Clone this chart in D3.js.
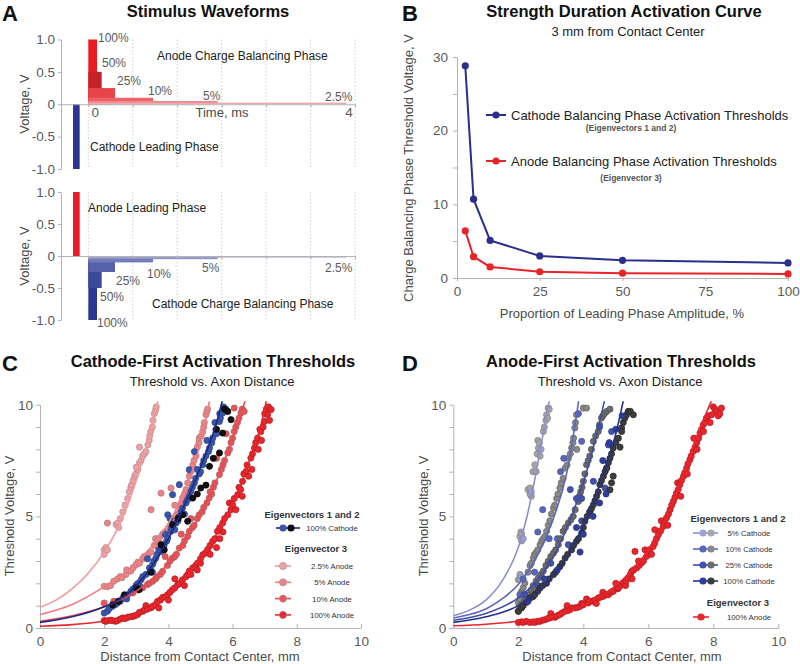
<!DOCTYPE html>
<html><head><meta charset="utf-8">
<script src="https://cdn.jsdelivr.net/npm/d3@7"></script>
<style>body{margin:0;background:#fff} svg{display:block;font-family:"Liberation Sans",Arial,Helvetica,sans-serif}</style>
</head><body><svg id="chart" width="800" height="664"></svg>
<script>
// ---------------- DATA ----------------
// Panel A: stimulus waveforms
const waveLevels = ["100%", "50%", "25%", "10%", "5%", "2.5%"];
const waveAmps = [1, 0.5, 0.25, 0.1, 0.05, 0.025];
const waveDur = [0.13, 0.2, 0.4, 0.97, 1.94, 3.87];       // ms, balancing phase durations
const leadPulse = [-0.23, -0.13];                          // ms, leading phase start/end
const waveTicksY = [1, 0.5, 0, -0.5, -1];
const waveGridT = [0, 0.667, 1.333, 2, 2.667, 3.333, 4];
const waveTickLabels = ["0", "4"];

// Panel B: strength–duration
const sdPct = [2.5, 5, 10, 25, 50, 100];
const sdCathode = [28.8, 10.7, 5.1, 3.0, 2.4, 2.05];
const sdAnode = [6.4, 2.9, 1.5, 0.85, 0.65, 0.55];
const sdTicksX = [0, 25, 50, 75, 100];
const sdTicksY = [0, 5, 10, 15, 20, 25, 30];

// Panel C: cathode-first thresholds (fitted curves + simulated axons)
const cFitA25 = [[0,0.93],[0.5,1.25],[1,1.75],[1.5,2.45],[2,3.4],[2.5,4.7],[3,6.6],[3.5,9.2],[3.7,10.3]];
const cFitA5 = [[0,0.6],[1,1.05],[2,1.85],[3,2.9],[3.5,3.7],[4,4.7],[4.5,6.1],[5,8.3],[5.3,10.3]];
const cFitA10 = [[0,0.3],[1,0.55],[2,0.95],[3,1.65],[4,2.9],[4.5,3.9],[5,5.1],[5.5,6.6],[6,8.5],[6.42,10.3]];
const cFitA100 = [[0,0.08],[1,0.15],[2,0.3],[3,0.6],[4,1.5],[4.5,2.2],[5,3.1],[5.5,4.2],[6,5.5],[6.5,7.4],[7,9.8],[7.07,10.3]];
const cFitC100 = [[0,0.25],[1,0.5],[2,0.95],[2.5,1.3],[3,1.9],[3.5,2.8],[4,4.0],[4.5,5.5],[5,7.2],[5.5,9.2],[5.7,10.3]];

const cPtsA25 = [[2.0,3.5],[2.05,3.6],[2.0,3.3],[2.1,3.5],[2.37,4.63],[2.42,4.7],[2.45,4.5],[2.5,4.9],[2.58,5.2],[2.65,5.5],[2.73,5.8],[2.78,6.1],[2.83,6.3],[2.85,6.4],[2.9,6.6],[2.95,6.8],[2.99,6.9],[3.05,7.1],[3.1,7.4],[3.0,7.2],[3.15,7.5],[3.2,7.7],[3.25,7.8],[3.3,7.9],[3.36,8.2],[3.1,8.1],[3.4,8.4],[3.42,8.6],[3.45,8.8],[3.5,9.0],[3.52,9.3],[3.56,9.6],[3.6,9.75],[3.62,9.9]];
const cPtsA5 = [[2.0,1.87],[2.1,1.85],[2.2,1.9],[2.3,2.1],[2.42,2.2],[2.5,2.3],[2.55,2.25],[2.68,2.4],[2.7,2.6],[2.83,2.55],[2.9,2.7],[2.99,2.84],[3.05,2.95],[3.1,2.9],[3.2,3.1],[3.25,3.2],[3.35,3.28],[3.4,3.35],[3.46,3.4],[3.56,3.7],[3.6,4.0],[3.65,3.9],[3.72,4.03],[3.82,4.2],[3.9,4.3],[3.98,4.33],[4.05,4.5],[4.13,4.63],[4.24,4.93],[4.3,5.1],[4.34,5.37],[4.2,5.5],[4.4,5.6],[4.44,5.82],[4.5,6.0],[4.55,6.2],[4.6,6.5],[4.65,6.8],[4.7,7.0],[4.76,7.3],[4.8,7.5],[4.86,7.7],[4.9,8.1],[4.95,8.3],[4.96,8.5],[5.02,8.6],[5.07,8.8],[5.1,9.0],[5.12,9.2],[5.17,9.55],[5.2,9.7],[5.22,9.8],[4.08,6.27],[3.77,6.04],[3.46,5.3],[2.1,4.7]];
const cPtsA10 = [[2.0,1.12],[2.3,1.2],[2.6,1.35],[2.7,1.45],[2.89,1.57],[3.05,1.7],[3.1,1.75],[3.2,1.8],[3.35,1.95],[3.4,2.0],[3.51,2.09],[3.6,2.2],[3.65,2.3],[3.75,2.4],[3.82,2.54],[3.9,3.2],[3.97,2.8],[4.05,3.0],[4.13,3.13],[4.2,3.2],[4.25,3.3],[4.34,3.58],[4.4,4.2],[4.45,3.7],[4.5,3.9],[4.6,4.1],[4.65,4.33],[4.75,4.5],[4.8,4.6],[4.9,4.9],[4.96,5.07],[5.05,5.2],[5.1,5.4],[5.2,5.6],[5.27,5.82],[5.35,6.0],[5.4,6.3],[5.45,6.5],[5.5,7.6],[5.59,6.87],[5.65,7.1],[5.7,7.3],[5.75,7.5],[5.85,7.84],[5.9,8.0],[5.95,8.3],[6.0,8.5],[6.05,8.8],[6.1,9.0],[6.15,9.2],[6.2,9.4],[6.26,9.63],[6.3,9.8],[6.36,9.7],[6.05,9.85],[5.8,8.7],[5.3,6.1],[4.7,4.9]];
const cPtsA100 = [[2.0,0.33],[2.05,0.3],[2.1,0.33],[2.2,0.35],[2.26,0.33],[2.35,0.3],[2.41,0.33],[2.5,0.4],[2.58,0.45],[2.65,0.42],[2.73,0.48],[2.8,0.5],[2.89,0.52],[2.95,0.55],[3.04,0.6],[3.1,0.7],[3.2,0.75],[3.25,0.8],[3.3,1.0],[3.35,0.85],[3.45,0.9],[3.51,0.97],[3.6,1.05],[3.66,1.19],[3.7,0.9],[3.75,1.25],[3.82,1.37],[3.9,1.4],[3.97,1.49],[4.0,1.25],[4.05,1.6],[4.13,1.72],[4.2,1.8],[4.2,2.2],[4.29,1.94],[4.35,2.0],[4.44,2.16],[4.5,1.9],[4.55,2.3],[4.6,2.39],[4.65,2.55],[4.7,2.4],[4.76,2.69],[4.85,2.8],[4.9,2.6],[4.91,2.91],[5.0,2.9],[5.0,3.1],[5.07,3.28],[5.15,3.35],[5.22,3.51],[5.3,3.3],[5.3,3.7],[5.38,3.88],[5.45,4.0],[5.5,3.6],[5.53,4.33],[5.6,4.0],[5.6,4.5],[5.69,4.7],[5.7,4.3],[5.75,4.9],[5.85,5.07],[5.9,5.6],[5.95,5.3],[6.0,5.52],[6.05,5.8],[6.1,5.3],[6.16,5.97],[6.2,6.3],[6.25,6.2],[6.3,5.9],[6.31,6.57],[6.35,6.9],[6.42,7.01],[6.45,7.3],[6.5,6.8],[6.57,7.61],[6.6,7.1],[6.62,7.8],[6.68,8.06],[6.72,8.3],[6.78,8.5],[6.8,8.0],[6.85,8.9],[6.88,8.8],[6.9,8.4],[6.95,9.0],[6.99,9.25],[7.0,9.6],[7.05,9.8],[7.09,9.55],[7.12,9.9],[7.15,9.3],[7.2,9.78]];
const cPtsC100Blue = [[2.0,0.67],[2.1,0.75],[2.15,0.85],[2.26,0.97],[2.35,1.05],[2.41,1.12],[2.5,1.2],[2.58,1.34],[2.65,1.4],[2.7,1.3],[2.73,1.49],[2.83,1.64],[2.9,1.75],[2.99,1.9],[3.05,2.0],[3.1,1.9],[3.15,2.16],[3.2,2.3],[3.3,2.4],[3.35,3.1],[3.41,2.69],[3.45,2.6],[3.5,2.5],[3.51,2.85],[3.55,3.0],[3.61,3.13],[3.65,3.3],[3.7,3.5],[3.77,3.43],[3.8,3.6],[3.87,3.73],[3.9,4.2],[3.95,3.9],[3.98,4.03],[3.98,5.07],[4.05,4.9],[4.08,4.33],[4.1,4.5],[4.13,5.97],[4.2,4.4],[4.24,4.7],[4.3,4.8],[4.34,5.0],[4.34,6.42],[4.4,5.2],[4.44,5.37],[4.5,5.1],[4.55,5.6],[4.6,5.75],[4.65,5.9],[4.65,7.09],[4.7,6.12],[4.75,6.3],[4.81,6.49],[4.81,7.9],[4.85,6.7],[4.9,7.1],[4.96,6.9],[5.0,7.0],[5.07,7.31],[5.1,7.5],[5.17,7.7],[5.2,8.4],[5.25,7.9],[5.28,8.06],[5.35,8.3],[5.38,8.5],[5.45,9.2],[5.48,8.88],[5.5,8.7],[5.59,9.25],[5.6,9.6],[5.62,9.4],[5.69,9.63],[5.72,9.9],[5.79,9.8]];
const cPtsC100Black = [[2.26,1.04],[2.45,1.2],[2.63,1.49],[3.0,1.8],[3.09,1.72],[3.45,2.5],[3.77,3.73],[3.87,3.5],[4.13,4.63],[4.3,4.9],[4.44,5.07],[4.6,4.78],[4.76,5.82],[4.9,6.0],[5.01,6.27],[5.17,6.4],[5.28,7.24],[5.4,7.6],[5.5,8.9],[5.59,7.84],[5.69,8.73],[5.75,9.8],[5.85,9.7],[5.95,9.33]];

// Panel D: anode-first thresholds
const dFitC5 = [[0,0.55],[0.5,0.8],[1,1.25],[1.5,2.1],[2,3.6],[2.3,5.2],[2.5,6.6],[2.7,8.2],[2.97,10.3]];
const dFitC10 = [[0,0.45],[0.5,0.6],[1,0.85],[1.5,1.3],[2,1.95],[2.5,3.0],[3,4.6],[3.5,7.0],[3.87,10.3]];
const dFitC25 = [[0,0.35],[1,0.65],[2,1.35],[2.5,2.0],[3,3.0],[3.5,4.5],[4,6.5],[4.4,8.6],[4.67,10.3]];
const dFitC100 = [[0,0.25],[1,0.5],[2,1.0],[2.5,1.5],[3,2.2],[3.5,3.2],[4,4.6],[4.5,6.4],[5,8.7],[5.25,10.3]];
const dFitA100 = [[0,0.1],[1,0.17],[2,0.3],[3,0.5],[4,1.0],[4.5,1.4],[5,1.9],[5.5,2.6],[6,3.5],[6.5,4.8],[7,6.5],[7.5,8.6],[7.98,10.3]];

const dPtsC5Gray = [[2.0,2.16],[2.05,2.4],[2.05,2.2],[2.05,4.1],[2.08,4.3],[2.1,4.2],[2.1,3.9],[2.3,6.2],[2.36,6.27],[2.4,5.9],[2.36,6.0],[2.45,7.0],[2.51,7.31],[2.55,7.0],[2.58,7.8],[2.62,8.06],[2.6,8.4],[2.65,8.3],[2.67,7.7],[2.77,8.8],[2.8,9.0],[2.85,9.3],[2.87,9.55],[2.92,9.85],[2.9,9.4],[2.95,9.8]];
const dPtsC5Blue = [[2.1,2.3],[2.15,4.0],[2.4,6.1],[2.7,8.0]];
const dPtsC10Gray = [[2.0,1.12],[2.05,1.3],[2.1,1.64],[2.15,1.8],[2.2,2.0],[2.3,2.5],[2.36,2.8],[2.4,2.9],[2.46,3.13],[2.5,3.3],[2.56,3.4],[2.6,3.5],[2.67,3.73],[2.72,3.9],[2.77,4.0],[2.82,4.1],[2.87,4.33],[2.92,4.6],[2.97,4.8],[3.02,5.1],[3.08,5.37],[3.12,5.5],[3.18,5.8],[3.22,6.0],[3.28,6.27],[3.32,6.5],[3.38,6.7],[3.44,7.16],[3.5,7.3],[3.54,7.6],[3.6,7.8],[3.64,8.06],[3.68,8.3],[3.7,8.5],[3.74,8.96],[3.76,9.2],[3.79,9.55],[3.8,8.0],[4.0,9.85],[4.1,9.85]];
const dPtsC10Blue = [[2.05,1.5],[2.15,2.2],[2.5,2.5],[2.6,4.3],[2.75,5.3],[2.95,4.0],[3.2,4.0],[3.3,7.0],[3.4,7.6],[3.85,9.6],[3.95,8.36]];
const dPtsC25Gray = [[2.0,0.75],[2.05,0.9],[2.1,1.05],[2.2,1.25],[2.31,1.49],[2.4,1.7],[2.46,1.9],[2.55,2.1],[2.62,2.24],[2.7,2.4],[2.77,2.55],[2.85,2.8],[2.92,2.99],[3.0,3.2],[3.08,3.35],[3.15,3.5],[3.23,3.73],[3.3,4.0],[3.38,4.33],[3.45,4.5],[3.54,4.7],[3.62,4.85],[3.69,5.0],[3.75,5.3],[3.85,5.67],[3.88,5.9],[3.92,6.1],[3.96,6.3],[4.0,6.57],[4.05,6.9],[4.1,7.31],[4.15,7.5],[4.2,7.7],[4.25,8.0],[4.31,8.36],[4.38,8.6],[4.46,8.8],[4.5,9.1],[4.56,9.4],[4.6,9.5],[4.65,9.6],[4.72,9.7],[4.82,9.8]];
const dPtsC25Blue = [[2.2,1.5],[2.6,1.9],[3.0,2.9],[3.54,3.73],[3.6,6.2],[3.79,5.8],[3.95,4.8],[3.95,5.8],[4.2,5.2],[4.31,6.57],[4.5,9.0],[4.67,6.27],[4.72,7.16],[4.77,8.2],[4.87,8.8]];
const dPtsC100Gray = [[2.0,0.75],[2.1,0.9],[2.15,1.0],[2.25,1.15],[2.36,1.34],[2.45,1.4],[2.51,1.5],[2.6,1.65],[2.67,1.79],[2.75,1.9],[2.87,2.0],[2.95,2.2],[3.08,2.39],[3.15,2.5],[3.28,2.75],[3.35,2.9],[3.44,3.13],[3.52,3.3],[3.64,3.5],[3.7,3.7],[3.79,3.88],[3.85,4.0],[3.95,4.25],[4.0,4.5],[4.05,4.78],[4.12,5.0],[4.2,5.2],[4.25,5.35],[4.31,5.52],[4.36,5.7],[4.41,5.9],[4.46,6.1],[4.51,6.42],[4.56,6.6],[4.62,6.8],[4.67,7.0],[4.72,7.16],[4.77,7.4],[4.82,7.6],[4.82,6.19],[4.87,6.5],[4.87,7.8],[4.92,6.8],[4.92,8.06],[5.0,8.3],[5.08,8.5],[5.13,8.1],[5.18,8.96],[5.18,8.8],[5.23,9.2],[5.28,9.4],[5.33,9.55],[5.38,9.7],[5.45,9.7],[5.54,9.55]];
const dPtsC100Blue = [[2.3,1.2],[2.8,2.2],[3.2,2.6],[3.79,4.5],[3.9,3.4],[4.0,4.2],[4.3,5.0],[4.5,5.6],[4.6,7.5],[4.7,6.0],[4.8,8.3],[5.0,8.9],[5.2,9.5]];
const dPtsA100 = [[2.0,0.25],[2.1,0.28],[2.15,0.25],[2.25,0.3],[2.36,0.25],[2.45,0.27],[2.51,0.25],[2.6,0.3],[2.67,0.3],[2.75,0.35],[2.82,0.37],[2.9,0.42],[2.97,0.45],[3.0,0.65],[3.05,0.5],[3.13,0.48],[3.2,0.55],[3.28,0.6],[3.35,0.68],[3.44,0.75],[3.5,1.0],[3.52,0.78],[3.59,0.82],[3.65,0.9],[3.74,0.9],[3.82,0.92],[3.9,0.97],[3.95,1.1],[4.0,1.04],[4.1,1.3],[4.15,1.12],[4.2,1.2],[4.31,1.19],[4.35,1.25],[4.4,1.1],[4.46,1.34],[4.52,1.38],[4.6,1.6],[4.62,1.42],[4.7,1.5],[4.77,1.49],[4.85,1.6],[4.92,1.64],[5.0,2.0],[5.05,1.75],[5.08,1.79],[5.15,1.9],[5.23,2.01],[5.3,1.9],[5.32,2.1],[5.38,2.24],[5.45,2.4],[5.49,2.54],[5.5,2.2],[5.55,2.6],[5.59,3.43],[5.64,2.69],[5.7,3.0],[5.72,2.8],[5.79,2.91],[5.85,3.0],[5.9,3.5],[5.95,3.21],[6.0,3.35],[6.05,3.51],[6.1,3.3],[6.15,3.65],[6.2,3.81],[6.2,4.4],[6.25,4.0],[6.31,4.18],[6.38,4.35],[6.4,4.8],[6.46,4.55],[6.5,4.7],[6.56,4.93],[6.6,4.6],[6.62,5.1],[6.67,5.3],[6.72,5.5],[6.77,5.67],[6.82,5.85],[6.87,6.04],[6.9,6.5],[6.92,6.2],[6.97,6.42],[7.0,5.9],[7.02,6.6],[7.08,6.79],[7.12,6.95],[7.18,7.16],[7.2,6.9],[7.22,7.35],[7.28,7.54],[7.32,7.7],[7.38,7.91],[7.4,8.5],[7.44,8.1],[7.49,8.3],[7.5,8.0],[7.55,8.5],[7.59,8.73],[7.64,8.9],[7.69,9.1],[7.7,8.8],[7.74,9.2],[7.79,9.4],[7.85,9.5],[7.9,9.2],[7.95,9.55],[8.0,9.9],[8.05,9.8],[8.1,9.7],[8.15,9.5],[8.2,9.6],[8.25,9.85]];
const distTicks = [0, 2, 4, 6, 8, 10];
const voltTicks = [0,1,2,3,4,5,6,7,8,9,10];

// ---------------- DRAWING ----------------
const svg = d3.select("#chart");
const AX = "#b3b3b3", TICKTXT = "#5a5a5a", LABTXT = "#4a4a4a";

function styleAxis(g, fs) {
  g.attr("font-family", null).attr("font-size", null);
  g.select(".domain").attr("stroke", AX).attr("stroke-width", 1);
  g.selectAll(".tick line").attr("stroke", AX);
  g.selectAll(".tick text").attr("fill", TICKTXT).style("font-size", (fs || 13.5) + "px");
}
function text(x, y, s, o) {
  o = o || {};
  const t = svg.append("text").attr("x", x).attr("y", y).text(s)
    .style("font-size", (o.size || 13) + "px")
    .attr("fill", o.fill || "#222")
    .attr("text-anchor", o.anchor || "start");
  if (o.bold) t.style("font-weight", "bold");
  if (o.rotate) t.attr("transform", `rotate(-90,${x},${y})`);
  return t;
}

// panel letters & titles
text(2, 21, "A", {size: 22, bold: true, fill: "#111"});
text(402, 21, "B", {size: 22, bold: true, fill: "#111"});
text(2, 371, "C", {size: 22, bold: true, fill: "#111"});
text(402, 371, "D", {size: 22, bold: true, fill: "#111"});
text(208, 17, "Stimulus Waveforms", {size: 16.5, bold: true, anchor: "middle", fill: "#111"});
text(624, 17, "Strength Duration Activation Curve", {size: 16.5, bold: true, anchor: "middle", fill: "#111"});
text(628, 36, "3 mm from Contact Center", {size: 13, anchor: "middle"});
text(213, 367, "Cathode-First Activation Thresholds", {size: 16.5, bold: true, anchor: "middle", fill: "#111"});
text(212, 386, "Threshold vs. Axon Distance", {size: 13, anchor: "middle"});
text(621, 367, "Anode-First Activation Thresholds", {size: 16.5, bold: true, anchor: "middle", fill: "#111"});
text(620, 386, "Threshold vs. Axon Distance", {size: 13, anchor: "middle"});

// ---------- Panel A ----------
const xA = d3.scaleLinear().domain([-0.41, 4]).range([61, 355]);
const yTop = d3.scaleLinear().domain([-1, 1]).range([169, 39.5]);
const yBot = d3.scaleLinear().domain([-1, 1]).range([320, 192]);
const anodeCols = ["#ed1c24", "#c4222a", "#e8444a", "#ec6468", "#ef878a", "#f3a8aa"];
const cathCols = ["#2b3990", "#3a4898", "#5660ab", "#727ab9", "#8d93c7", "#a9add6"];
const topLabelPos = [[98,42],[102,67],[117,85],[148,95],[203,100],[325,101]];
const botLabelPos = [[97,327],[100,301],[116,285],[147,278],[202,272],[325,272]];

function wavePanel(y, sign, leadCol, balCols, labelPos) {
  const g = svg.append("g");
  g.selectAll("line.grid").data(waveGridT).join("line")
    .attr("x1", d => xA(d)).attr("x2", d => xA(d))
    .attr("y1", y(1)).attr("y2", y(-1))
    .attr("stroke", "#cfcfcf").attr("stroke-dasharray", "1.5,2");
  g.selectAll("rect.bal").data(waveAmps).join("rect")
    .attr("x", xA(0))
    .attr("width", (d, i) => xA(waveDur[i]) - xA(0))
    .attr("y", d => Math.min(y(0), y(sign * d)))
    .attr("height", d => Math.abs(y(sign * d) - y(0)))
    .attr("fill", (d, i) => balCols[i]);
  g.append("rect")
    .attr("x", xA(leadPulse[0])).attr("width", xA(leadPulse[1]) - xA(leadPulse[0]))
    .attr("y", Math.min(y(0), y(-sign))).attr("height", Math.abs(y(-sign) - y(0)))
    .attr("fill", leadCol);
  const ya = g.append("g").attr("transform", `translate(${xA(-0.41)},0)`)
    .call(d3.axisLeft(y).tickValues(waveTicksY).tickSize(3).tickSizeOuter(0).tickPadding(3)
      .tickFormat(d => d === 0 ? "0" : d.toFixed(1)));
  styleAxis(ya);
  const xa = g.append("g").attr("transform", `translate(0,${y(0)})`)
    .call(d3.axisBottom(xA).tickValues(waveGridT).tickSize(3).tickSizeOuter(0).tickFormat(""));
  styleAxis(xa);
  waveLevels.forEach((s, i) => text(labelPos[i][0], labelPos[i][1], s, {size: 12, fill: TICKTXT}));
  return g;
}
wavePanel(yTop, 1, "#2b3590", anodeCols, topLabelPos);
wavePanel(yBot, -1, "#ed1c24", cathCols, botLabelPos);
text(xA(0) + 7, 117, waveTickLabels[0], {size: 13.5, fill: TICKTXT, anchor: "middle"});
text(xA(4) - 6, 117, waveTickLabels[1], {size: 13.5, fill: TICKTXT, anchor: "middle"});
text(222, 117, "Time, ms", {size: 13, fill: LABTXT, anchor: "middle"});
text(157, 60, "Anode Charge Balancing Phase", {size: 12, fill: "#222"});
text(90, 151, "Cathode Leading Phase", {size: 12, fill: "#222"});
text(88, 212, "Anode Leading Phase", {size: 12, fill: "#222"});
text(152, 308, "Cathode Charge Balancing Phase", {size: 12, fill: "#222"});
text(29, 104, "Voltage, V", {size: 13, fill: LABTXT, anchor: "middle", rotate: true});
text(29, 256, "Voltage, V", {size: 13, fill: LABTXT, anchor: "middle", rotate: true});

// ---------- Panel B ----------
const xB = d3.scaleLinear().domain([0, 100]).range([457, 788]);
const yB = d3.scaleLinear().domain([0, 30]).range([278, 57]);
{
  const ya = svg.append("g").attr("transform", `translate(${xB(0)},0)`)
    .call(d3.axisLeft(yB).tickValues(sdTicksY).tickSize(4).tickSizeOuter(0).tickPadding(5)
      .tickFormat(d => d % 10 === 0 ? d : ""));
  styleAxis(ya);
  const xa = svg.append("g").attr("transform", `translate(0,${yB(0)})`)
    .call(d3.axisBottom(xB).tickValues(sdTicksX).tickSize(3).tickSizeOuter(0).tickPadding(5));
  styleAxis(xa);
  const line = d3.line().x(d => xB(d[0])).y(d => yB(d[1]));
  const series = [[sdCathode, "#2b2f8c"], [sdAnode, "#e8232a"]];
  series.forEach(([vals, col]) => {
    const pts = sdPct.map((p, i) => [p, vals[i]]);
    svg.append("path").datum(pts).attr("d", line).attr("fill", "none").attr("stroke", col).attr("stroke-width", 2);
    svg.selectAll(null).data(pts).join("circle").attr("cx", d => xB(d[0])).attr("cy", d => yB(d[1]))
      .attr("r", 3.6).attr("fill", col);
  });
  [[115, "#2b2f8c", "Cathode Balancing Phase Activation Thresholds", "(Eigenvectors 1 and 2)", 131],
   [161, "#e8232a", "Anode Balancing Phase Activation Thresholds", "(Eigenvector 3)", 181]].forEach(([ly, col, s, sub, sy]) => {
    svg.append("line").attr("x1", 486).attr("x2", 506).attr("y1", ly).attr("y2", ly).attr("stroke", col).attr("stroke-width", 2);
    svg.append("circle").attr("cx", 496).attr("cy", ly).attr("r", 3.6).attr("fill", col);
    text(511, ly + 5, s, {size: 13, fill: "#222"});
    text(631, sy, sub, {size: 8.5, bold: true, fill: "#555", anchor: "middle"});
  });
  text(622, 318, "Proportion of Leading Phase Amplitude, %", {size: 13, fill: LABTXT, anchor: "middle"});
  text(413, 168, "Charge Balancing Phase Threshold Voltage, V", {size: 13, fill: LABTXT, anchor: "middle", rotate: true});
}

// ---------- Panels C & D ----------
const yCD = d3.scaleLinear().domain([0, 10]).range([628, 404.7]);
function scatterPanel(x0, x1, fits, groups, ylabX, xlabCx, clipId) {
  const x = d3.scaleLinear().domain([0, 10]).range([x0, x1]);
  const ya = svg.append("g").attr("transform", `translate(${x0},0)`)
    .call(d3.axisLeft(yCD).tickValues(voltTicks).tickSize(4).tickSizeOuter(0).tickPadding(3)
      .tickFormat(d => d % 5 === 0 ? d : ""));
  styleAxis(ya);
  const xa = svg.append("g").attr("transform", `translate(0,${yCD(0)})`)
    .call(d3.axisBottom(x).tickValues(distTicks).tickSize(-4).tickSizeOuter(0).tickPadding(8));
  styleAxis(xa);
  svg.append("clipPath").attr("id", clipId).append("rect")
    .attr("x", x0).attr("y", yCD(10.15)).attr("width", x1 - x0).attr("height", yCD(0) - yCD(10.15));
  const plot = svg.append("g").attr("clip-path", `url(#${clipId})`);
  groups.forEach(gr => {
    plot.append("g").selectAll("circle").data(gr.pts).join("circle")
      .attr("cx", d => x(d[0])).attr("cy", d => yCD(d[1])).attr("r", 3.1)
      .attr("fill", gr.fill).attr("stroke", gr.stroke).attr("stroke-width", 0.7);
  });
  const line = d3.line().x(d => x(d[0])).y(d => yCD(d[1])).curve(d3.curveMonotoneX);
  fits.forEach(f => {
    plot.append("path").datum(f.pts).attr("d", line).attr("fill", "none")
      .attr("stroke", f.col).attr("stroke-width", 1.6);
  });
  text(xlabCx, 661, "Distance from Contact Center, mm", {size: 13, fill: LABTXT, anchor: "middle"});
  text(ylabX, 516, "Threshold Voltage, V", {size: 13, fill: LABTXT, anchor: "middle", rotate: true});
  return x;
}

const colA25 = "#f4a0a2", colA5 = "#f08286", colA10 = "#ea5559", colA100 = "#e8262c";
scatterPanel(40, 361,
  [{pts: cFitA25, col: "#f29b9e"}, {pts: cFitA5, col: "#ee7e82"}, {pts: cFitA10, col: "#e94c51"},
   {pts: cFitA100, col: "#e8262c"}, {pts: cFitC100, col: "#1e2a80"}],
  [{pts: cPtsA25, fill: colA25, stroke: "#a88f90"},
   {pts: cPtsA5, fill: colA5, stroke: "#a67a7c"},
   {pts: cPtsA10, fill: colA10, stroke: "#a05a5c"},
   {pts: cPtsA100, fill: colA100, stroke: "#b01a20"},
   {pts: cPtsC100Blue, fill: "#3a56a8", stroke: "#2c428c"},
   {pts: cPtsC100Black, fill: "#111111", stroke: "#000"}],
  14, 200, "clipC");

scatterPanel(453.3, 778.3,
  [{pts: dFitC5, col: "#8b8fd0"}, {pts: dFitC10, col: "#5f67ba"}, {pts: dFitC25, col: "#414ca6"},
   {pts: dFitC100, col: "#25308b"}, {pts: dFitA100, col: "#e8262c"}],
  [{pts: dPtsC5Gray, fill: "#a7a7a7", stroke: "#7d7d7d"}, {pts: dPtsC5Blue, fill: "#9ea2d8", stroke: "#7a7fb8"},
   {pts: dPtsC10Gray, fill: "#888888", stroke: "#666"}, {pts: dPtsC10Blue, fill: "#5a66b8", stroke: "#46529c"},
   {pts: dPtsC25Gray, fill: "#6b6b6b", stroke: "#4d4d4d"}, {pts: dPtsC25Blue, fill: "#4352aa", stroke: "#33418e"},
   {pts: dPtsC100Gray, fill: "#3d3d3d", stroke: "#262626"}, {pts: dPtsC100Blue, fill: "#2f3e9c", stroke: "#22307e"},
   {pts: dPtsA100, fill: colA100, stroke: "#b01a20"}],
  428, 622, "clipD");

function legItem(lx1, lx2, y, lineCol, circles, label, tx) {
  svg.append("line").attr("x1", lx1).attr("x2", lx2).attr("y1", y).attr("y2", y).attr("stroke", lineCol).attr("stroke-width", 1.6);
  circles.forEach(c => svg.append("circle").attr("cx", c[0]).attr("cy", y).attr("r", 3.6)
    .attr("fill", c[1]).attr("stroke", c[2] || "none").attr("stroke-width", 0.7));
  text(tx, y + 3, label, {size: 7.8, fill: "#333", anchor: "middle"});
}
text(312, 518, "Eigenvectors 1 and 2", {size: 9.5, bold: true, fill: "#333", anchor: "middle"});
legItem(276, 300, 528, "#1e2a80", [[283, "#3a56a8"], [291, "#111"]], "100% Cathode", 332);
text(316, 552, "Eigenvector 3", {size: 9.5, bold: true, fill: "#333", anchor: "middle"});
[["2.5% Anode", colA25, "#f29b9e"], ["5% Anode", colA5, "#ee7e82"], ["10% Anode", colA10, "#e94c51"], ["100% Anode", colA100, "#e8262c"]]
  .forEach((d, i) => legItem(275, 291, 566 + i * 16.3, d[2], [[283, d[1], "#999"]], d[0], 332));

text(738, 522, "Eigenvectors 1 and 2", {size: 9.5, bold: true, fill: "#333", anchor: "middle"});
[["5% Cathode", "#8b8fd0", "#9ea2d8", "#a7a7a7"], ["10% Cathode", "#5f67ba", "#5a66b8", "#888"],
 ["25% Cathode", "#414ca6", "#4352aa", "#6b6b6b"], ["100% Cathode", "#25308b", "#2f3e9c", "#3d3d3d"]]
  .forEach((d, i) => legItem(693, 718, 533 + i * 16, d[1], [[703, d[2]], [711, d[3]]], d[0], 749));
text(738, 606, "Eigenvector 3", {size: 9.5, bold: true, fill: "#333", anchor: "middle"});
legItem(693, 709, 617, "#e8262c", [[701, colA100]], "100% Anode", 749);
</script></body></html>
